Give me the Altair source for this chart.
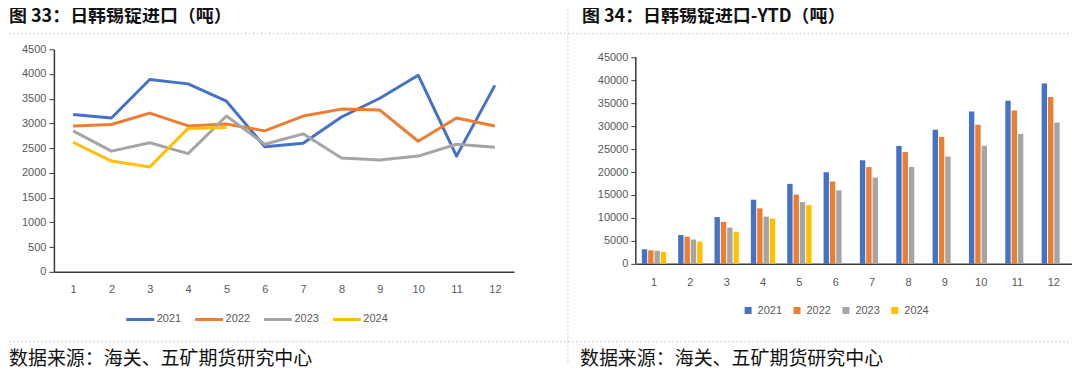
import altair as alt
import pandas as pd

months = list(range(1, 13))
years = ["2021", "2022", "2023", "2024"]
colors = ["#4472C4", "#ED7D31", "#A5A5A5", "#FFC000"]

# monthly imports (tonnes)
m2021 = [3180, 3110, 3890, 3800, 3450, 2530, 2600, 3130, 3510, 3975, 2340, 3770]
m2022 = [2950, 2980, 3210, 2950, 2990, 2850, 3150, 3290, 3270, 2640, 3110, 2950]
m2023 = [2850, 2440, 2610, 2390, 3150, 2580, 2790, 2300, 2260, 2340, 2580, 2520]
m2024 = [2620, 2240, 2120, 2900, 2920]

# year-to-date imports (tonnes)
y2021 = [3180, 6290, 10180, 13980, 17430, 19960, 22560, 25690, 29200, 33175, 35515, 39285]
y2022 = [2950, 5930, 9140, 12090, 15080, 17930, 21080, 24370, 27640, 30280, 33390, 36340]
y2023 = [2850, 5290, 7900, 10290, 13440, 16020, 18810, 21110, 23370, 25710, 28290, 30810]
y2024 = [2620, 4860, 6980, 9880, 12800]

left_ticks = list(range(0, 4501, 500))
right_ticks = list(range(0, 45001, 5000))

title_left = "图 33：日韩锡锭进口（吨）"
title_right = "图 34：日韩锡锭进口-YTD（吨）"
source_text = "数据来源：海关、五矿期货研究中心"

def long(series_list):
    rows = []
    for yr, vals in zip(years, series_list):
        for m, v in zip(months, vals):
            rows.append({"month": m, "year": yr, "value": v})
    return pd.DataFrame(rows)

monthly = long([m2021, m2022, m2023, m2024])
ytd = long([y2021, y2022, y2023, y2024])

AXIS_FONT = "Liberation Sans"
CJK = "Noto Sans CJK SC"
LABEL_C = "#595959"
AXIS_C = "#3a3a3a"
DOT_C = "#cfcfcf"

one = pd.DataFrame({"a": [0]})

def text_layer(txt, x, y, size, weight, baseline):
    return alt.Chart(one).mark_text(
        text=txt, align="left", baseline=baseline, font=CJK, fontSize=size,
        fontWeight=weight, color="#111111"
    ).encode(x=alt.value(x), y=alt.value(y))

def hrule(x1, x2, y):
    return alt.Chart(one).mark_rule(color=DOT_C, strokeDash=[2, 2], strokeWidth=1).encode(
        x=alt.value(x1), x2=alt.value(x2), y=alt.value(y))

def vrule(x, y1, y2):
    return alt.Chart(one).mark_rule(color=DOT_C, strokeDash=[2, 2], strokeWidth=1).encode(
        x=alt.value(x), y=alt.value(y1), y2=alt.value(y2))

def x_axis(pad):
    return alt.Axis(title=None, labelAngle=0, ticks=False, labelPadding=pad,
                    labelFontSize=11, labelColor=LABEL_C, labelFont=AXIS_FONT,
                    domainColor=AXIS_C, domainWidth=1.5, grid=False)

def y_axis(vals, domain=True):
    kw = dict(title=None, values=vals, format="d", labelOverlap=False, tickSize=5,
              tickColor=AXIS_C, labelPadding=3, labelFontSize=11, labelColor=LABEL_C,
              labelFont=AXIS_FONT, grid=False, tickCount=len(vals))
    if domain:
        kw.update(domainColor=AXIS_C, domainWidth=1.5)
    else:
        kw.update(domain=False)
    return alt.Axis(**kw)

# ---------------- left panel ----------------
LW, LH = 461, 223
lines = alt.Chart(monthly).mark_line(strokeWidth=3, strokeJoin="round").encode(
    x=alt.X("month:O", scale=alt.Scale(type="point", padding=0.5), axis=x_axis(12)),
    y=alt.Y("value:Q", scale=alt.Scale(domain=[0, 4500], nice=False),
            axis=y_axis(left_ticks)),
    color=alt.Color("year:N", scale=alt.Scale(domain=years, range=colors),
                    legend=alt.Legend(title=None, orient="none", legendX=71, legendY=255,
                                      direction="horizontal", columns=4,
                                      symbolType="stroke", symbolSize=784,
                                      symbolStrokeWidth=3, labelFontSize=11,
                                      labelColor=LABEL_C, labelFont=AXIS_FONT,
                                      columnPadding=7, labelOffset=1)),
    detail="year:N",
)

left = alt.layer(
    lines,
    text_layer(title_left, -45, -32, 18, "bold", "middle"),
    hrule(-45, 515, -16),
    hrule(-45, 515, 293),
    text_layer(source_text, -45, 316, 19, "normal", "alphabetic"),
).properties(width=LW, height=LH)

# ---------------- right panel ----------------
RW, RH = 437, 215
ytop = 45000 * RH / 207.0
yscale_r = alt.Scale(domain=[0, ytop], nice=False)
yaxis_r = y_axis(right_ticks, domain=False)

bars = alt.Chart(ytd).mark_bar().encode(
    x=alt.X("month:O", scale=alt.Scale(paddingInner=0.33, paddingOuter=0.165),
            axis=x_axis(13)),
    xOffset=alt.XOffset("year:N", scale=alt.Scale(domain=years, paddingInner=0.15)),
    y=alt.Y("value:Q", scale=yscale_r, axis=yaxis_r),
    color=alt.Color("year:N", scale=alt.Scale(domain=years, range=colors),
                    legend=alt.Legend(title=None, orient="none", legendX=107, legendY=256,
                                      direction="horizontal", columns=4,
                                      symbolType="square", symbolSize=49,
                                      symbolStrokeWidth=0, labelFontSize=11,
                                      labelColor=LABEL_C, labelFont=AXIS_FONT,
                                      columnPadding=9, labelOffset=4)),
)

yline = alt.Chart(one).mark_rule(color=AXIS_C, strokeWidth=1.5).encode(
    x=alt.value(0),
    y=alt.Y(datum=0, type="quantitative", scale=yscale_r, axis=yaxis_r),
    y2=alt.Y2(datum=45000),
)

right = alt.layer(
    bars,
    yline,
    text_layer(title_right, -54, -32, 18, "bold", "middle"),
    hrule(-68, 436, -16),
    hrule(-68, 436, 293),
    vrule(-68, -40, 316),
    text_layer(source_text, -56, 316, 19, "normal", "alphabetic"),
).properties(width=RW, height=RH)

chart = alt.hconcat(left, right, spacing=122, bounds="flush").resolve_scale(
    color="independent", x="independent", y="independent"
).resolve_legend(color="independent").properties(
    padding=0, background="white"
).configure_view(stroke=None)

chart.save("out.html", embed_options={"renderer": "svg", "actions": False})
